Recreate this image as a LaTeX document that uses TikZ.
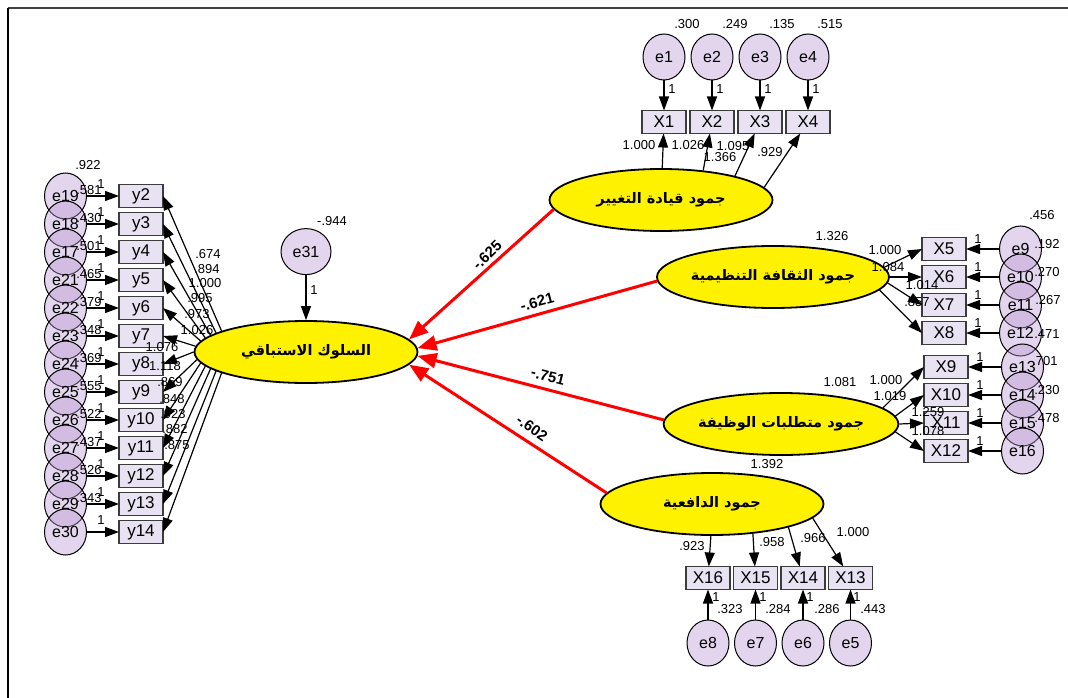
\documentclass[tikz,border=0pt]{standalone}
\usepackage{fontspec}
\setmainfont{Liberation Sans}
\newfontfamily\arabicfont[Script=Arabic]{DejaVu Sans}
\TeXXeTstate=1
\usetikzlibrary{positioning, arrows.meta, shapes.geometric}
\definecolor{boxfill}{RGB}{232,226,242}
\definecolor{errfill}{RGB}{185,150,210}
\definecolor{boxline}{RGB}{60,60,60}

\begin{document}
\begin{tikzpicture}[x=1pt, y=-1pt,
    latent/.style={draw, ellipse, line width=1.8pt, fill=yellow, minimum width=223pt, minimum height=62pt, inner sep=0pt, font={\fontsize{14.5}{16}\arabicfont\bfseries}},
    ind/.style={draw=boxline, rectangle, line width=1.4pt, fill=boxfill, minimum width=44pt, minimum height=23pt, inner sep=1pt, outer sep=0pt, font=\fontsize{17}{18}\selectfont},
    err/.style={draw, ellipse, line width=1pt, fill=errfill, fill opacity=0.4, text opacity=1, minimum width=42pt, minimum height=46pt, inner sep=0pt, font=\fontsize{16}{17}\selectfont},
    num/.style={inner sep=0pt, font=\fontsize{13}{14}\selectfont},
    coef/.style={inner sep=0pt, font=\bfseries\fontsize{15}{16}\selectfont},
    arr/.style={-{Triangle[length=14pt, width=10pt]}, line width=1.2pt},
    rarr/.style={-{Triangle[length=19pt, width=15pt]}, line width=3pt, red}
]
    \useasboundingbox (0,0) rectangle (1068,698);
    \draw[line width=2pt, black!75] (8,8) -- (1068,8);
    \draw[line width=2pt] (8,8) -- (8,698);

    \node[latent] (main) at (306,352) {\beginR السلوك الاستباقي\endR};
    \node[latent] (lead) at (661,200) {\beginR جمود قيادة التغيير\endR};
    \node[latent] (cult) at (773,277) {\beginR جمود الثقافة التنظيمية\endR};
    \node[latent] (job) at (781,424) {\beginR جمود متطلبات الوظيفة\endR};
    \node[latent] (mot) at (712,504) {\beginR جمود الدافعية\endR};
    \node[err, minimum width=50pt, above=45pt of main] (e31) {e31};

    \node[ind] (y2) at (141,196) {y2};
    \node[ind, below=5pt of y2] (y3) {y3};
    \node[ind, below=5pt of y3] (y4) {y4};
    \node[ind, below=5pt of y4] (y5) {y5};
    \node[ind, below=5pt of y5] (y6) {y6};
    \node[ind, below=5pt of y6] (y7) {y7};
    \node[ind, below=5pt of y7] (y8) {y8};
    \node[ind, below=5pt of y8] (y9) {y9};
    \node[ind, below=5pt of y9] (y10) {y10};
    \node[ind, below=5pt of y10] (y11) {y11};
    \node[ind, below=5pt of y11] (y12) {y12};
    \node[ind, below=5pt of y12] (y13) {y13};
    \node[ind, below=5pt of y13] (y14) {y14};
    \node[err, left=32pt of y2] (e19) {e19};
    \node[err, left=32pt of y3] (e18) {e18};
    \node[err, left=32pt of y4] (e17) {e17};
    \node[err, left=32pt of y5] (e21) {e21};
    \node[err, left=32pt of y6] (e22) {e22};
    \node[err, left=32pt of y7] (e23) {e23};
    \node[err, left=32pt of y8] (e24) {e24};
    \node[err, left=32pt of y9] (e25) {e25};
    \node[err, left=32pt of y10] (e26) {e26};
    \node[err, left=32pt of y11] (e27) {e27};
    \node[err, left=32pt of y12] (e28) {e28};
    \node[err, left=32pt of y13] (e29) {e29};
    \node[err, left=32pt of y14] (e30) {e30};

    \node[ind] (X1) at (664,122) {X1};
    \node[ind, right=4pt of X1] (X2) {X2};
    \node[ind, right=4pt of X2] (X3) {X3};
    \node[ind, right=4pt of X3] (X4) {X4};
    \node[err, above=30pt of X1] (e1) {e1};
    \node[err, above=30pt of X2] (e2) {e2};
    \node[err, above=30pt of X3] (e3) {e3};
    \node[err, above=30pt of X4] (e4) {e4};

    \node[ind] (X5) at (944,249) {X5};
    \node[ind, below=5pt of X5] (X6) {X6};
    \node[ind, below=5pt of X6] (X7) {X7};
    \node[ind, below=5pt of X7] (X8) {X8};
    \node[err, right=33pt of X5] (e9) {e9};
    \node[err, right=33pt of X6] (e10) {e10};
    \node[err, right=33pt of X7] (e11) {e11};
    \node[err, right=33pt of X8] (e12) {e12};

    \node[ind] (X9) at (946,367) {X9};
    \node[ind, below=5pt of X9] (X10) {X10};
    \node[ind, below=5pt of X10] (X11) {X11};
    \node[ind, below=5pt of X11] (X12) {X12};
    \node[err, right=33pt of X9] (e13) {e13};
    \node[err, right=33pt of X10] (e14) {e14};
    \node[err, right=33pt of X11] (e15) {e15};
    \node[err, right=33pt of X12] (e16) {e16};

    \node[ind] (X16) at (708,578) {X16};
    \node[ind, right=3.5pt of X16] (X15) {X15};
    \node[ind, right=3.5pt of X15] (X14) {X14};
    \node[ind, right=3.5pt of X14] (X13) {X13};
    \node[err, below=30pt of X16] (e8) {e8};
    \node[err, below=30pt of X15] (e7) {e7};
    \node[err, below=30pt of X14] (e6) {e6};
    \node[err, below=30pt of X13] (e5) {e5};

    \draw[arr] (e31) -- (main);
    \draw[arr] (e19) -- (y2);
    \draw[arr] (e18) -- (y3);
    \draw[arr] (e17) -- (y4);
    \draw[arr] (e21) -- (y5);
    \draw[arr] (e22) -- (y6);
    \draw[arr] (e23) -- (y7);
    \draw[arr] (e24) -- (y8);
    \draw[arr] (e25) -- (y9);
    \draw[arr] (e26) -- (y10);
    \draw[arr] (e27) -- (y11);
    \draw[arr] (e28) -- (y12);
    \draw[arr] (e29) -- (y13);
    \draw[arr] (e30) -- (y14);
    \draw[arr] (main.166) -- (y2.east);
    \draw[arr] (main.168) -- (y3.east);
    \draw[arr] (main.170) -- (y4.east);
    \draw[arr] (main.172) -- (y5.east);
    \draw[arr] (main.174) -- (y6.east);
    \draw[arr] (main.177) -- (y7.east);
    \draw[arr] (main.180) -- (y8.east);
    \draw[arr] (main.184) -- (y9.east);
    \draw[arr] (main.186) -- (y10.east);
    \draw[arr] (main.188) -- (y11.east);
    \draw[arr] (main.190) -- (y12.east);
    \draw[arr] (main.192) -- (y13.east);
    \draw[arr] (main.194) -- (y14.east);

    \draw[arr] (e1) -- (X1);
    \draw[arr] (e2) -- (X2);
    \draw[arr] (e3) -- (X3);
    \draw[arr] (e4) -- (X4);
    \draw[arr] (lead) -- (X1);
    \draw[arr] (lead.35) -- (X2);
    \draw[arr] (lead.18) -- (X3);
    \draw[arr] (lead.7) -- (X4);

    \draw[arr] (e9) -- (X5);
    \draw[arr] (e10) -- (X6);
    \draw[arr] (e11) -- (X7);
    \draw[arr] (e12) -- (X8);
    \draw[arr] (cult.5) -- (X5.west);
    \draw[arr] (cult.0) -- (X6.west);
    \draw[arr] (cult.-3) -- (X7.west);
    \draw[arr] (cult.-7) -- (X8.west);

    \draw[arr] (e13) -- (X9);
    \draw[arr] (e14) -- (X10);
    \draw[arr] (e15) -- (X11);
    \draw[arr] (e16) -- (X12);
    \draw[arr] (job.9) -- (X9.west);
    \draw[arr] (job.4) -- (X10.west);
    \draw[arr] (job.0) -- (X11.west);
    \draw[arr] (job.-4) -- (X12.west);

    \draw[arr] (e8) -- (X16);
    \draw[arr] (e7) -- (X15);
    \draw[arr] (e6) -- (X14);
    \draw[arr] (e5) -- (X13);
    \draw[arr] (mot.-92) -- (X16);
    \draw[arr] (mot.-36) -- (X15);
    \draw[arr] (mot.-17) -- (X14);
    \draw[arr] (mot.-8) -- (X13);

    \draw[rarr] (lead.185) -- (main.7);
    \draw[rarr] (cult.182) -- (main.2);
    \draw[rarr] (job.178) -- (main.-2);
    \draw[rarr] (mot.174) -- (main.-7);

    \node[coef, rotate=44] (c1) at (487,255) {-.625};
    \node[coef, rotate=15] (c2) at (537,302) {-.621};
    \node[coef, rotate=-14] (c3) at (548,376) {-.751};
    \node[coef, rotate=-35] (c4) at (532,428) {-.602};

    \node[num] (v31) at (332,221) {-.944};
    \node[num] (o31) at (314,290) {1};

    \node[num] (v19) at (88,165) {.922};
    \node[num] (v18) at (89,190) {.581};
    \node[num] (v17) at (89,218) {.430};
    \node[num] (v21) at (89,246) {.501};
    \node[num] (v22) at (89,274) {.465};
    \node[num] (v23) at (89,302) {.379};
    \node[num] (v24) at (89,330) {.348};
    \node[num] (v25) at (89,358) {.369};
    \node[num] (v26) at (89,386) {.555};
    \node[num] (v27) at (89,414) {.522};
    \node[num] (v28) at (89,442) {.437};
    \node[num] (v29) at (89,470) {.526};
    \node[num] (v30) at (89,498) {.343};
    \node[num] (o2) at (101,184) {1};
    \node[num] (o3) at (101,212) {1};
    \node[num] (o4) at (101,240) {1};
    \node[num] (o5) at (101,268) {1};
    \node[num] (o6) at (101,296) {1};
    \node[num] (o7) at (101,324) {1};
    \node[num] (o8) at (101,352) {1};
    \node[num] (o9) at (101,380) {1};
    \node[num] (o10) at (101,408) {1};
    \node[num] (o11) at (101,436) {1};
    \node[num] (o12) at (101,464) {1};
    \node[num] (o13) at (101,492) {1};
    \node[num] (o14) at (101,520) {1};
    \node[num] (l2) at (208,254) {.674};
    \node[num] (l3) at (207,269) {.894};
    \node[num] (l4) at (205,283) {1.000};
    \node[num] (l5) at (200,298) {.995};
    \node[num] (l6) at (197,314) {.973};
    \node[num] (l7) at (197,330) {1.026};
    \node[num] (l8) at (162,347) {1.076};
    \node[num] (l9) at (165,366) {1.118};
    \node[num] (l10) at (170,382) {.869};
    \node[num] (l11) at (172,399) {.848};
    \node[num] (l12) at (173,414) {.923};
    \node[num] (l13) at (175,429) {.882};
    \node[num] (l14) at (177,445) {.875};

    \node[num] (v1) at (687,24) {.300};
    \node[num] (v2) at (735,24) {.249};
    \node[num] (v3) at (782,24) {.135};
    \node[num] (v4) at (830,24) {.515};
    \node[num] (o15) at (672,89) {1};
    \node[num] (o16) at (720,89) {1};
    \node[num] (o17) at (768,89) {1};
    \node[num] (o18) at (816,89) {1};
    \node[num] (lx1) at (639,145) {1.000};
    \node[num] (lx2) at (688,145) {1.026};
    \node[num] (lx3) at (733,146) {1.095};
    \node[num] (lx3b) at (720,157) {1.366};
    \node[num] (lx4) at (770,152) {.929};

    \node[num] (vcult) at (832,236) {1.326};
    \node[num] (lx5) at (885,250) {1.000};
    \node[num] (lx6) at (888,267) {1.084};
    \node[num] (lx7) at (922,285) {1.014};
    \node[num] (lx8) at (917,302) {.857};
    \node[num] (v9) at (1042,215) {.456};
    \node[num] (v10) at (1047,244) {.192};
    \node[num] (v11) at (1047,272) {.270};
    \node[num] (v12) at (1048,300) {.267};
    \node[num] (v13) at (1047,334) {.471};
    \node[num] (o19) at (978,239) {1};
    \node[num] (o20) at (978,267) {1};
    \node[num] (o21) at (978,295) {1};
    \node[num] (o22) at (978,323) {1};

    \node[num] (vjob) at (840,382) {1.081};
    \node[num] (lx9) at (886,380) {1.000};
    \node[num] (lx10) at (890,396) {1.019};
    \node[num] (lx11) at (928,412) {1.259};
    \node[num] (lx12) at (928,431) {1.078};
    \node[num] (v14) at (1045,361) {.701};
    \node[num] (v15) at (1047,390) {.230};
    \node[num] (v16) at (1047,418) {.478};
    \node[num] (o23) at (980,357) {1};
    \node[num] (o24) at (980,385) {1};
    \node[num] (o25) at (980,413) {1};
    \node[num] (o26) at (980,441) {1};

    \node[num] (vmot) at (767,464) {1.392};
    \node[num] (lx16) at (692,546) {.923};
    \node[num] (lx15) at (772,542) {.958};
    \node[num] (lx14) at (813,538) {.966};
    \node[num] (lx13) at (853,532) {1.000};
    \node[num] (o27) at (716,597) {1};
    \node[num] (o28) at (763,597) {1};
    \node[num] (o29) at (810,597) {1};
    \node[num] (o30) at (857,597) {1};
    \node[num] (v8) at (730,609) {.323};
    \node[num] (v7) at (778,609) {.284};
    \node[num] (v6) at (827,609) {.286};
    \node[num] (v5) at (873,609) {.443};
\end{tikzpicture}
\end{document}
